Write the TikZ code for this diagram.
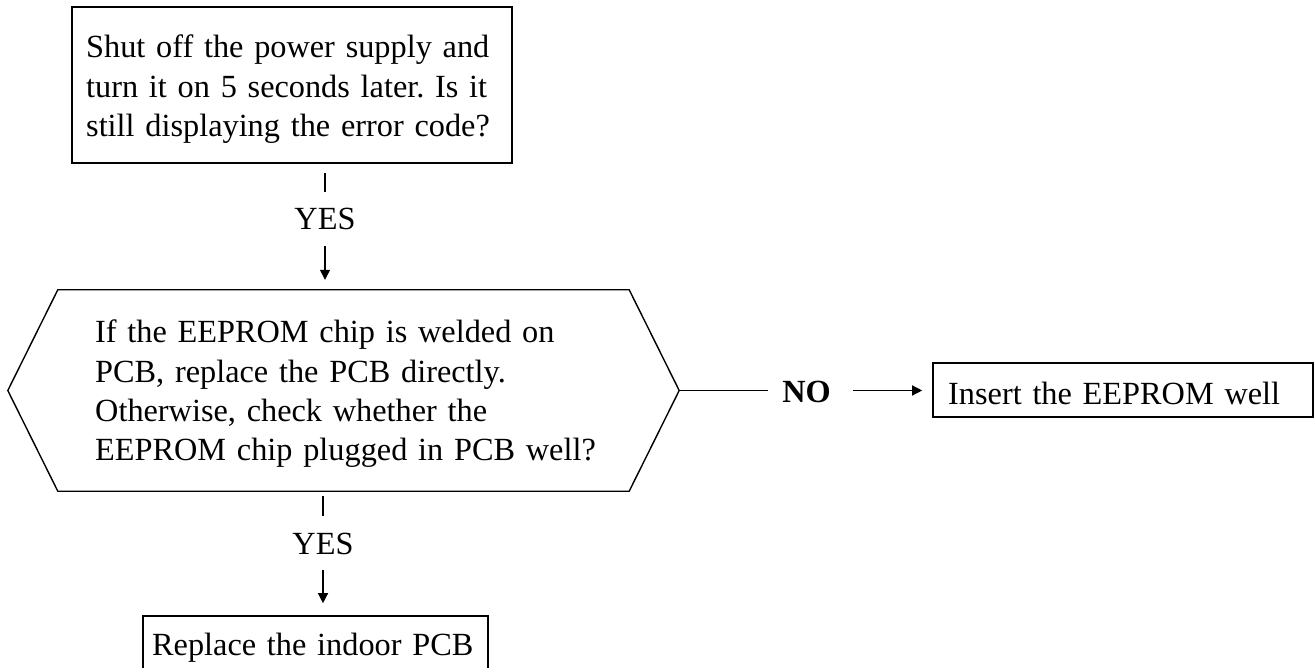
\documentclass[tikz,border=0pt]{standalone}
\usepackage{fontspec}
\setmainfont{Liberation Serif}
\usetikzlibrary{arrows.meta,calc}
\begin{document}
\frenchspacing
\begin{tikzpicture}[x=1pt,y=-1pt,
  txt/.style={font=\fontsize{32.3}{39.3}\selectfont, inner sep=0pt, align=left, text width=#1},
  txt/.default=560pt,
  frame/.style={draw, line width=1.6pt, inner sep=0pt},
  conn/.style={line width=1.3pt},
  arr/.style={line width=1.3pt, -{Triangle[length=10pt,width=10pt]}},
  lbl/.style={font=\fontsize{32.3}{39.3}\selectfont, text height=22pt, text depth=0pt, inner ysep=15.5pt, inner xsep=0pt}]
\useasboundingbox (0,0) rectangle (1315,668);

% top box
\node[frame, minimum width=440pt, minimum height=156pt] (top) at (292,85) {};
\node[txt=420pt, anchor=base west] (toptext) at (86,58)
  {Shut off the power supply and\\turn it on 5 seconds later. Is it\\still displaying the error code?};

% hexagon
\node[inner sep=0pt, minimum width=571pt, minimum height=201pt] (hex) at (343.5,390.5) {};
\coordinate (hexR) at ($(hex.east)+(50,0)$);
\coordinate (hexL) at ($(hex.west)+(-50,0)$);
\draw[line width=1.4pt, line join=miter] (hex.north west) -- (hex.north east) -- (hexR) -- (hex.south east)
  -- (hex.south west) -- (hexL) -- cycle;
\node[txt=560pt, anchor=base west] (hextext) at (95,343)
  {If the EEPROM chip is welded on\\PCB, replace the PCB directly.\\Otherwise, check whether the\\EEPROM chip plugged in PCB well?};

% right box
\node[frame, minimum width=380pt, minimum height=54pt] (ins) at (1123,390) {};
\node[txt=370pt, anchor=base west] (instext) at (948,404) {Insert the EEPROM well};

% bottom box
\node[frame, minimum width=345pt, minimum height=53pt] (rep) at (315.5,642.5) {};
\node[txt=340pt, anchor=base west] (reptext) at (152,655) {Replace the indoor PCB};

% labels
\node[lbl, anchor=base] (yes1) at (325,230) {YES};
\node[lbl, anchor=base] (yes2) at (323,554) {YES};
\node[lbl, anchor=base, font=\fontsize{32.3}{39.3}\selectfont\bfseries, inner xsep=14pt] (no) at (806.5,402) {NO};

% connectors
\draw[conn] ($(top.south -| yes1)+(0,9)$) -- (yes1.north);
\draw[arr] (yes1.south) -- ($(hex.north -| yes1)+(0,-10)$);
\draw[conn] ($(hex.south -| yes2)+(0,5)$) -- (yes2.north);
\draw[arr] (yes2.south) -- ($(rep.north -| yes2)+(0,-12)$);
\draw[conn] (hexR) -- (hexR -| no.west);
\draw[arr] ($(hexR -| no.east)+(8,0)$) -- ($(hexR -| ins.west)+(-10,0)$);
\end{tikzpicture}
\end{document}
